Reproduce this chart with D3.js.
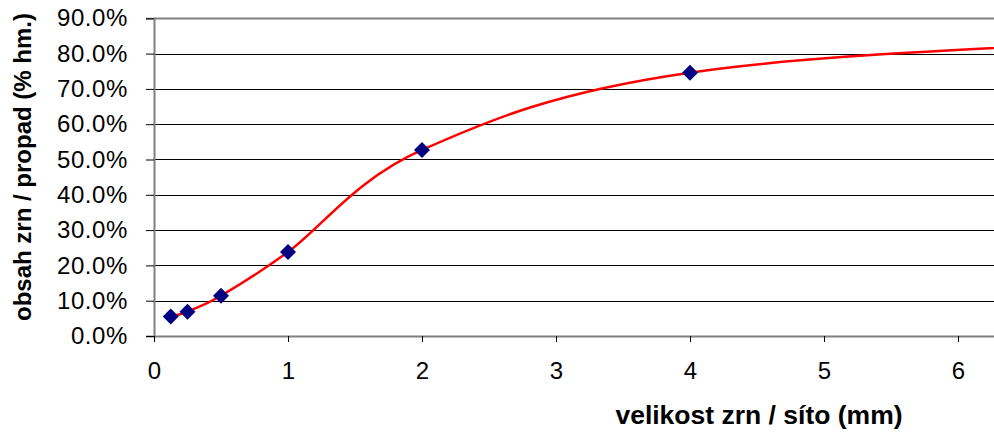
<!DOCTYPE html>
<html>
<head>
<meta charset="utf-8">
<script src="https://cdn.jsdelivr.net/npm/d3@7/dist/d3.min.js"></script>
<style>
  html, body { margin: 0; padding: 0; background: #fff; }
  svg { display: block; }
  text { font-family: "Liberation Sans", Arial, sans-serif; fill: #000; }
</style>
</head>
<body>
<svg id="chart" width="994" height="437"></svg>
<script>
// Sieve sizes (mm) and passing fraction (%), the last two are beyond the visible range
const sieveSizes = [0.125, 0.25, 0.5, 1, 2, 4, 8, 16];
const passing    = [5.5, 6.9, 11.4, 23.8, 52.7, 74.6, 85.0, 100.0];
const xTicks = [0, 1, 2, 3, 4, 5, 6];
const yTicks = [0, 10, 20, 30, 40, 50, 60, 70, 80, 90];
const xTitle = "velikost zrn / síto (mm)";
const yTitle = "obsah zrn / propad (% hm.)";

(function () {
const data = sieveSizes.map((s, i) => ({ x: s, y: passing[i] }));

const mLeft = 154, mRight = 994, mTop = 18.3, mBottom = 336;

const svg = d3.select("#chart");
const x = d3.scaleLinear().domain([0, (mRight - mLeft) / 134]).range([mLeft, mRight]);
const y = d3.scaleLinear().domain([0, 90]).range([mBottom, mTop]);

// gridlines
svg.append("g")
  .selectAll("line")
  .data(yTicks.filter(d => d > 0))
  .join("line")
  .attr("x1", mLeft).attr("x2", mRight)
  .attr("y1", d => Math.round(y(d)) + 0.5).attr("y2", d => Math.round(y(d)) + 0.5)
  .attr("stroke", d => d === 90 ? "#808080" : "#000")
  .attr("stroke-width", d => d === 90 ? 2 : 1);

// y axis
const yAxis = svg.append("g")
  .attr("transform", `translate(${mLeft},0)`)
  .call(d3.axisLeft(y).tickValues(yTicks).tickFormat(d => d.toFixed(1) + "%").tickSize(8).tickPadding(18));
yAxis.select(".domain").attr("stroke", "#808080").attr("stroke-width", 2);
yAxis.selectAll(".tick line").attr("stroke", "#000");
yAxis.selectAll(".tick text")
  .attr("font-size", 24)
  .attr("font-family", "Liberation Sans, Arial, sans-serif")
  .attr("letter-spacing", "0.6px")
  .attr("fill", "#000");

// x axis
const xAxis = svg.append("g")
  .attr("transform", `translate(0,${mBottom})`)
  .call(d3.axisBottom(x).tickValues(xTicks).tickFormat(d3.format("d")).tickSizeInner(6).tickSizeOuter(0).tickPadding(20));
xAxis.select(".domain").attr("stroke", "#808080").attr("stroke-width", 2);
xAxis.selectAll(".tick line").attr("stroke", "#000");
xAxis.selectAll(".tick text")
  .attr("font-size", 24)
  .attr("font-family", "Liberation Sans, Arial, sans-serif")
  .attr("fill", "#000");

// clip
svg.append("clipPath").attr("id", "plot")
  .append("rect").attr("x", mLeft).attr("y", 0).attr("width", mRight - mLeft).attr("height", mBottom);

// smoothed curve
const line = d3.line()
  .x(d => x(d.x)).y(d => y(d.y))
  .curve(d3.curveCardinal.tension(0));
svg.append("path")
  .datum(data)
  .attr("clip-path", "url(#plot)")
  .attr("d", line)
  .attr("fill", "none")
  .attr("stroke", "#ff0000")
  .attr("stroke-width", 2.5);

// markers
svg.append("g")
  .selectAll("path")
  .data(data)
  .join("path")
  .attr("transform", d => `translate(${x(d.x)},${y(d.y)})`)
  .attr("d", "M0,-8L8,0L0,8L-8,0Z")
  .attr("fill", "#000080");

// axis titles
svg.append("text")
  .attr("x", 759).attr("y", 424)
  .attr("text-anchor", "middle")
  .attr("font-size", 26.5).attr("font-weight", "bold")
  .text(xTitle);

svg.append("text")
  .attr("transform", `translate(31,167) rotate(-90)`)
  .attr("text-anchor", "middle")
  .attr("font-size", 24).attr("font-weight", "bold")
  .text(yTitle);
})();
</script>
</body>
</html>
